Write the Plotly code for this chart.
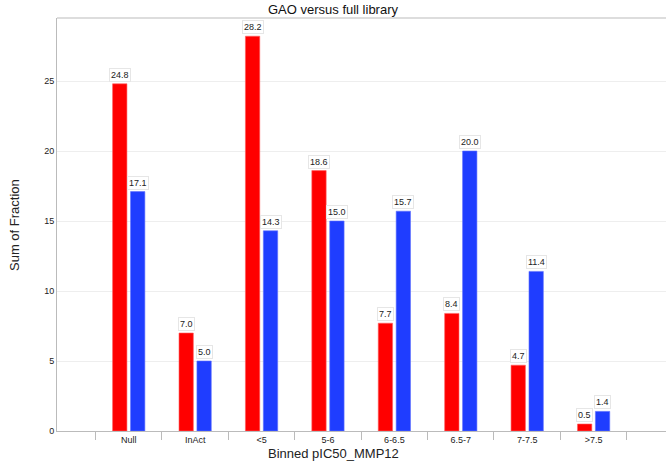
import plotly.graph_objects as go

categories = ["Null", "InAct", "<5", "5-6", "6-6.5", "6.5-7", "7-7.5", ">7.5"]
gao_values = [24.8, 7.0, 28.2, 18.6, 7.7, 8.4, 4.7, 0.5]
full_values = [17.1, 5.0, 14.3, 15.0, 15.7, 20.0, 11.4, 1.4]
y_ticks = [0, 5, 10, 15, 20, 25]

RED = "#ff0000"
BLUE = "#1f3dff"
FONT = "Liberation Sans, Arial, sans-serif"

fig = go.Figure()
fig.add_trace(go.Bar(x=categories, y=gao_values, name="GAO",
                     marker=dict(color=RED, line=dict(color="#ff6060", width=0.6))))
fig.add_trace(go.Bar(x=categories, y=full_values, name="Full library",
                     marker=dict(color=BLUE, line=dict(color="#6070ff", width=0.6))))

annotations = []
for series, shift in ((gao_values, -9), (full_values, 9)):
    for c, v in zip(categories, series):
        annotations.append(dict(
            x=c, y=v, xref="x", yref="y", text=f"{v:.1f}", showarrow=False,
            xshift=shift, yanchor="bottom", yshift=2,
            font=dict(family=FONT, size=9, color="#222222"),
            bgcolor="white", bordercolor="#e6e6e6", borderwidth=1, borderpad=1,
        ))

# axis titles
annotations.append(dict(text="Binned pIC50_MMP12", xref="paper", yref="paper",
                        x=(333 - 57) / 609, y=-(454 - 431) / 413, xanchor="center", yanchor="middle",
                        showarrow=False, font=dict(family=FONT, size=13, color="#222222")))
annotations.append(dict(text="Sum of Fraction", xref="paper", yref="paper",
                        x=-(57 - 14) / 609, y=(431 - 225) / 413, xanchor="center", yanchor="middle",
                        textangle=-90, showarrow=False, font=dict(family=FONT, size=13, color="#222222")))

fig.update_layout(
    width=666, height=463,
    margin=dict(l=57, r=0, t=18, b=32, autoexpand=False),
    paper_bgcolor="white", plot_bgcolor="white",
    showlegend=False,
    barmode="group", bargap=0.46, bargroupgap=0.2,
    title=dict(text="GAO versus full library", x=(333) / 666, xanchor="center",
               y=1 - 9 / 463, yanchor="middle",
               font=dict(family=FONT, size=13, color="#111111")),
    annotations=annotations,
    font=dict(family=FONT),
)
fig.update_xaxes(
    type="category", range=[-1.08, 8.09], automargin=False,
    tickson="boundaries", ticks="outside", ticklen=8, tickcolor="#bbbbbb",
    showline=True, linecolor="#bbbbbb", linewidth=1, mirror=False,
    showgrid=False,
    tickfont=dict(size=9, color="#222222"),
)
fig.update_yaxes(
    range=[0, 29.5], tickvals=y_ticks, automargin=False,
    showline=True, linecolor="#bbbbbb", linewidth=1,
    showgrid=True, gridcolor="#eeeeee", zeroline=False,
    ticks="", tickfont=dict(size=9, color="#222222"),
)
# top border of plot box
fig.add_shape(type="line", xref="paper", yref="paper", x0=0, x1=1, y0=1, y1=1,
              line=dict(color="#bbbbbb", width=1))

fig.write_html("out.html", config={"displayModeBar": False},
               post_script="document.body.style.margin='0';document.body.style.overflow='hidden';")
